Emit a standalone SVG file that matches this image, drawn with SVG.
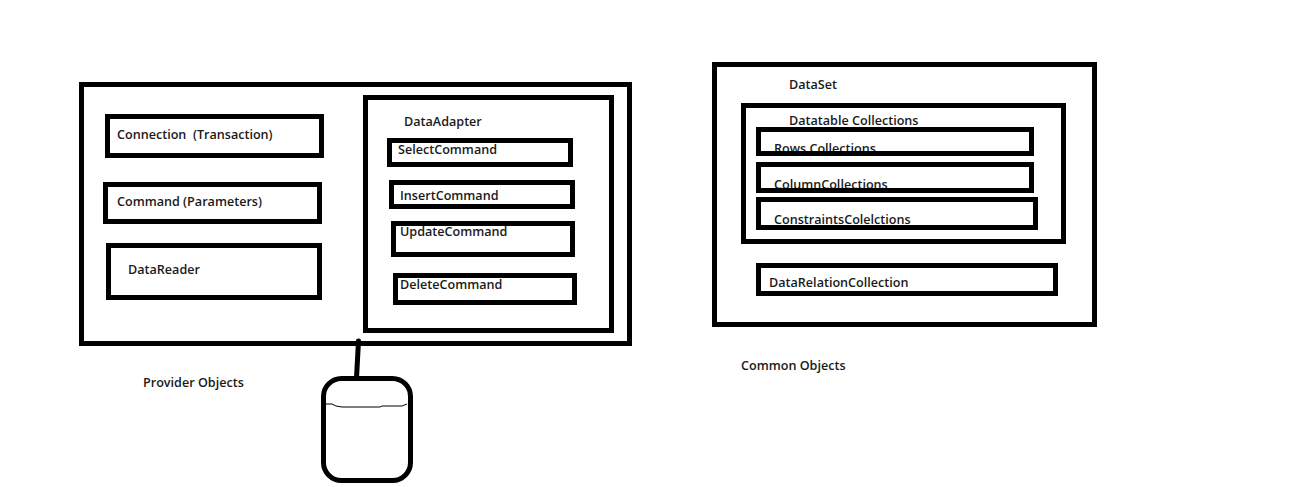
<svg xmlns="http://www.w3.org/2000/svg" width="1294" height="487" viewBox="0 0 1294 487">
<style>
rect.b{fill:none;stroke:#000;stroke-width:5}
text{font-family:"Open Sans","Liberation Sans",sans-serif;font-size:12.6px;font-weight:600;fill:#1a1a1a;white-space:pre}
</style>
<rect width="1294" height="487" fill="#fff"/>
<g id="provider"><rect class="b" x="81.5" y="84.5" width="548" height="259"/></g>
<g id="connection"><text x="117" y="139">Connection  (Transaction)</text><rect class="b" x="107.5" y="116.5" width="214" height="39"/></g>
<g id="command"><text x="117" y="206">Command (Parameters)</text><rect class="b" x="105.5" y="184.5" width="214" height="37"/></g>
<g id="datareader"><text x="128" y="274">DataReader</text><rect class="b" x="108.5" y="245.5" width="211" height="52"/></g>
<g id="dataadapter"><text x="404" y="126">DataAdapter</text><rect class="b" x="365.5" y="97.5" width="246" height="233"/></g>
<g id="select"><text x="398" y="154">SelectCommand</text><rect class="b" x="389.5" y="140.5" width="181" height="24"/></g>
<g id="insert"><text x="400" y="200">InsertCommand</text><rect class="b" x="391.5" y="182.5" width="181" height="24"/></g>
<g id="update"><text x="400" y="236">UpdateCommand</text><rect class="b" x="393.5" y="223.5" width="179" height="31"/></g>
<g id="delete"><text x="400" y="289">DeleteCommand</text><rect class="b" x="395.5" y="275.5" width="179" height="27"/></g>
<g id="dataset"><text x="789" y="89">DataSet</text><rect class="b" x="714.5" y="64.5" width="380" height="260"/></g>
<g id="datatable"><text x="789" y="125">Datatable Collections</text><rect class="b" x="743.5" y="105.5" width="320" height="136"/></g>
<g id="rows"><text x="774" y="153">Rows Collections</text><rect class="b" x="758.5" y="129.5" width="273" height="24"/></g>
<g id="columns"><text x="774" y="188.5">ColumnCollections</text><rect class="b" x="758.5" y="164.5" width="273" height="26"/></g>
<g id="constraints"><text x="774" y="224">ConstraintsColelctions</text><rect class="b" x="758.5" y="199.5" width="277" height="28"/></g>
<g id="relation"><text x="769" y="287">DataRelationCollection</text><rect class="b" x="758.5" y="265.5" width="297" height="28"/></g>
<g id="provider-label"><text x="143" y="387">Provider Objects</text></g>
<g id="common-label"><text x="741" y="370">Common Objects</text></g>
<g id="database"><rect class="b" x="323.5" y="378.5" width="87" height="102" rx="18"/><path d="M326 404L332 404L336 406L342 407L380 407L382 406L402 406L407 404" fill="none" stroke="#000" stroke-width="1"/></g>
<g id="connectors"><path d="M358.5 341L356.5 378" fill="none" stroke="#000" stroke-width="5" stroke-linecap="round"/></g>
</svg>
